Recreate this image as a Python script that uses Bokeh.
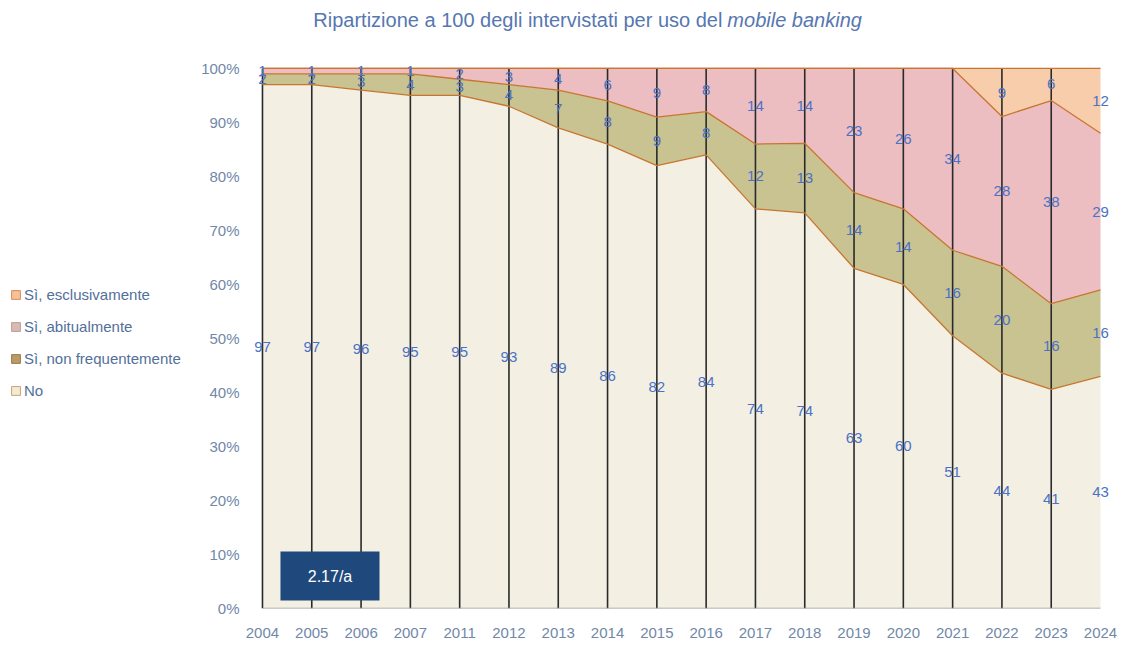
from bokeh.plotting import figure
from bokeh.layouts import row
from bokeh.models import (Range1d, FixedTicker, Legend, LegendItem, Label,
                          BoxAnnotation, ColumnDataSource, LabelSet)
from bokeh.core.properties import value
from bokeh.embed import file_html
from bokeh.resources import INLINE

# ---------------- data ----------------
years = ["2004", "2005", "2006", "2007", "2011", "2012", "2013", "2014", "2015",
         "2016", "2017", "2018", "2019", "2020", "2021", "2022", "2023", "2024"]
no_vals = [97, 97, 96, 95, 95, 93, 89, 86, 82, 84, 74, 74, 63, 60, 51, 44, 41, 43]
non_freq = [2, 2, 3, 4, 3, 4, 7, 8, 9, 8, 12, 13, 14, 14, 16, 20, 16, 16]
abitual = [1, 1, 1, 1, 2, 3, 4, 6, 9, 8, 14, 14, 23, 26, 34, 28, 38, 29]
esclus = [0, 0, 0, 0, 0, 0, 0, 0, 0, 0, 0, 0, 0, 0, 0, 9, 6, 12]
series_names = ["No", "Sì, non frequentemente", "Sì, abitualmente", "Sì, esclusivamente"]
y_ticks = [0, 10, 20, 30, 40, 50, 60, 70, 80, 90, 100]
title_plain = "Ripartizione a 100 degli intervistati per uso del"
title_italic = "mobile banking"
badge_text = "2.17/a"

# ---------------- style ----------------
FONT = "Liberation Sans"
fills = ["#f3f0e3", "#c9c291", "#ecbdc1", "#f8cdab"]
legend_fills = ["#f3ead4", "#b99a68", "#d9bab3", "#f5c19b"]
legend_lines = ["#c9a173", "#9c7a4c", "#b99d96", "#d98c55"]
edge = "#c8762f"
lbl_col = "#4a72c6"
axis_col = "#7188a8"
title_col = "#5677b0"
legend_txt = "#52709a"

series = [no_vals, non_freq, abitual, esclus]
n = len(years)
xs = list(range(n))
totals = [sum(s[i] for s in series) for i in range(n)]

LEG_W = 198
H = 644

# ---------------- main chart ----------------
p = figure(width=1117 - LEG_W, height=H, output_backend="svg", toolbar_location=None,
           x_range=Range1d(-0.243, n - 1 + 0.243), y_range=Range1d(0, 111.1),
           min_border_left=52, min_border_right=5, min_border_top=8,
           min_border_bottom=36)
p.outline_line_color = None
p.xgrid.visible = False
p.ygrid.visible = False
p.background_fill_color = "white"

lower = [0.0] * n
bounds = []
for k, s in enumerate(series):
    upper = [lower[i] + s[i] * 100.0 / totals[i] for i in range(n)]
    p.varea(x=xs, y1=lower, y2=upper, fill_color=fills[k])
    bounds.append((lower[:], upper[:]))
    lower = upper

p.segment(x0=xs[:-1], y0=[0] * (n - 1), x1=xs[:-1], y1=[100] * (n - 1),
          line_color="#2a2a2a", line_width=1.6)

for k in range(len(series)):
    p.line(xs, bounds[k][1], line_color=edge, line_width=1.3)
p.line([0, n - 1], [0, 0], line_color="#9a9a9a", line_width=1.3)

lx, ly, lt = [], [], []
for k, s in enumerate(series):
    lo, up = bounds[k]
    for i in range(n):
        if s[i] > 0:
            lx.append(xs[i])
            ly.append((lo[i] + up[i]) / 2)
            lt.append(str(s[i]))
src = ColumnDataSource(dict(x=lx, y=ly, t=lt))
p.add_layout(LabelSet(x="x", y="y", text="t", source=src, text_align="center",
                      text_baseline="middle", text_color=lbl_col,
                      text_font_size="15px", text_font=value(FONT)))

p.xaxis.ticker = FixedTicker(ticks=xs)
p.xaxis.major_label_overrides = {i: years[i] for i in xs}
p.yaxis.ticker = FixedTicker(ticks=y_ticks)
p.yaxis.major_label_overrides = {t: f"{t}%" for t in y_ticks}
for ax in (p.xaxis, p.yaxis):
    ax.axis_line_color = None
    ax.major_tick_line_color = None
    ax.minor_tick_line_color = None
    ax.major_label_text_color = axis_col
    ax.major_label_text_font = FONT
    ax.major_label_text_font_size = "15px"
p.xaxis.major_label_standoff = 13
p.yaxis.major_label_standoff = 5

p.add_layout(BoxAnnotation(left=0.365, right=2.374, bottom=1.48, top=10.56,
                           fill_color="#1f497d", fill_alpha=1, line_color=None))
p.add_layout(Label(x=1.37, y=6.0, text=badge_text, text_align="center",
                   text_baseline="middle", text_color="white",
                   text_font_size="16px", text_font=FONT))

p.add_layout(Label(x=9.33, y=108.9, text=title_plain, text_align="right",
                   text_baseline="middle", text_color=title_col,
                   text_font_size="20px", text_font=FONT))
p.add_layout(Label(x=9.43, y=108.9, text=title_italic, text_align="left",
                   text_baseline="middle", text_color=title_col,
                   text_font_size="20px", text_font=FONT,
                   text_font_style="italic"))

# ---------------- legend panel ----------------
lg = figure(width=LEG_W, height=H, output_backend="svg", toolbar_location=None,
            x_range=Range1d(0, 1), y_range=Range1d(0, 1),
            min_border_left=0, min_border_right=0, min_border_top=0,
            min_border_bottom=0)
lg.axis.visible = False
lg.grid.visible = False
lg.outline_line_color = None
items = []
for k in [3, 2, 1, 0]:
    r = lg.quad(left=[5], right=[6], top=[5], bottom=[4], fill_color=legend_fills[k],
                line_color=legend_lines[k], line_width=1)
    items.append(LegendItem(label=series_names[k], renderers=[r]))
leg = Legend(items=items, location=(10, 208), glyph_width=11, glyph_height=11,
             label_text_font_size="15px", label_text_font=FONT,
             label_text_color=legend_txt, label_standoff=3, label_height=20,
             spacing=12, padding=0, margin=0, border_line_color=None,
             background_fill_alpha=0)
lg.add_layout(leg)

layout = row(lg, p)
open("out.html", "w").write(file_html(layout, INLINE))
